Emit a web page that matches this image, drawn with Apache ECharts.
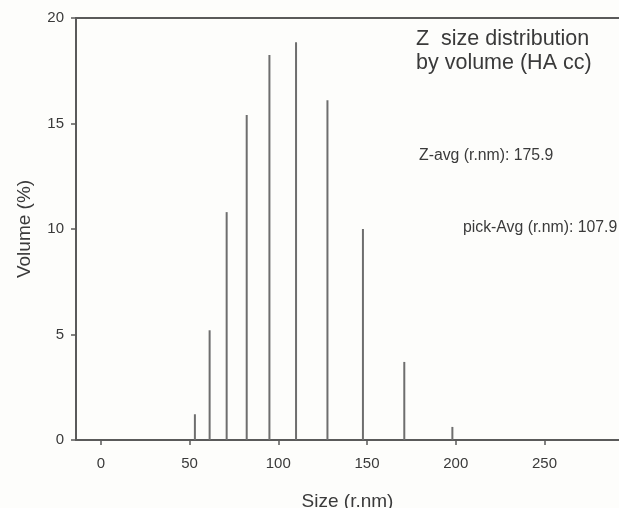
<!DOCTYPE html>
<html>
<head>
<meta charset="utf-8">
<script src="https://cdn.jsdelivr.net/npm/echarts@6/dist/echarts.min.js"></script>
<style>
html,body{margin:0;padding:0;background:#fdfdfb;}
#c{width:619px;height:508px;}
</style>
</head>
<body>
<div id="c"></div>
<script>
var sizes = [53.0, 61.3, 70.9, 82.2, 95.0, 110.0, 127.7, 147.7, 171.0, 198.1];
var volumes = [1.22, 5.2, 10.8, 15.4, 18.25, 18.85, 16.1, 10.0, 3.7, 0.62];
var xTicks = [0, 50, 100, 150, 200, 250];
var yTicks = [0, 5, 10, 15, 20];
var titleLines = ['Z  size distribution', 'by volume (HA cc)'];
var zAvgText = 'Z-avg (r.nm): 175.9';
var pickAvgText = 'pick-Avg (r.nm): 107.9';

var axisColor = '#5a5a5a';
var textColor = '#3a3a3a';
var fontFam = '"Liberation Sans", Arial, sans-serif';

var chart = echarts.init(document.getElementById('c'), null, {renderer: 'canvas'});
var seriesData = sizes.map(function (s, i) { return [s, volumes[i]]; });

chart.setOption({
  backgroundColor: '#fdfdfb',
  animation: false,
  textStyle: {fontFamily: fontFam},
  grid: {left: 76, right: 0, top: 18, bottom: 68, containLabel: false, outerBoundsMode: 'none'},
  xAxis: [{
    type: 'value',
    min: -14,
    max: 292,
    position: 'bottom',
    splitLine: {show: false},
    axisLine: {show: true, onZero: false, lineStyle: {color: axisColor, width: 2}},
    axisTick: {show: true, length: 5, customValues: xTicks, lineStyle: {color: axisColor, width: 1.5}},
    axisLabel: {customValues: xTicks, color: textColor, fontSize: 15, margin: 16, fontFamily: fontFam},
    name: 'Size (r.nm)',
    nameLocation: 'middle',
    nameGap: 52,
    nameTextStyle: {color: textColor, fontSize: 19, fontFamily: fontFam}
  }, {
    type: 'value',
    min: -14,
    max: 292,
    position: 'top',
    splitLine: {show: false},
    axisLine: {show: true, onZero: false, lineStyle: {color: axisColor, width: 2}},
    axisTick: {show: false},
    axisLabel: {show: false}
  }],
  yAxis: {
    type: 'value',
    min: 0,
    max: 20,
    interval: 5,
    splitLine: {show: false},
    axisLine: {show: true, onZero: false, lineStyle: {color: axisColor, width: 2}},
    axisTick: {show: true, length: 5, lineStyle: {color: axisColor, width: 1.5}},
    axisLabel: {color: textColor, fontSize: 15, margin: 12, fontFamily: fontFam},
    name: 'Volume (%)',
    nameLocation: 'middle',
    nameGap: 42,
    nameTextStyle: {color: textColor, fontSize: 19, fontFamily: fontFam}
  },
  series: [{
    type: 'bar',
    xAxisIndex: 0,
    data: seriesData,
    barWidth: 2,
    itemStyle: {color: '#6e6e6e'},
    silent: true
  }],
  graphic: [
    {type: 'text', left: 416, top: 27, style: {text: titleLines.join('\n'), font: '21.5px ' + fontFam, fill: textColor, lineHeight: 24}},
    {type: 'text', left: 419, top: 148, style: {text: zAvgText, font: '15.8px ' + fontFam, fill: textColor}},
    {type: 'text', left: 463, top: 220, style: {text: pickAvgText, font: '15.8px ' + fontFam, fill: textColor}}
  ]
});
</script>
</body>
</html>
